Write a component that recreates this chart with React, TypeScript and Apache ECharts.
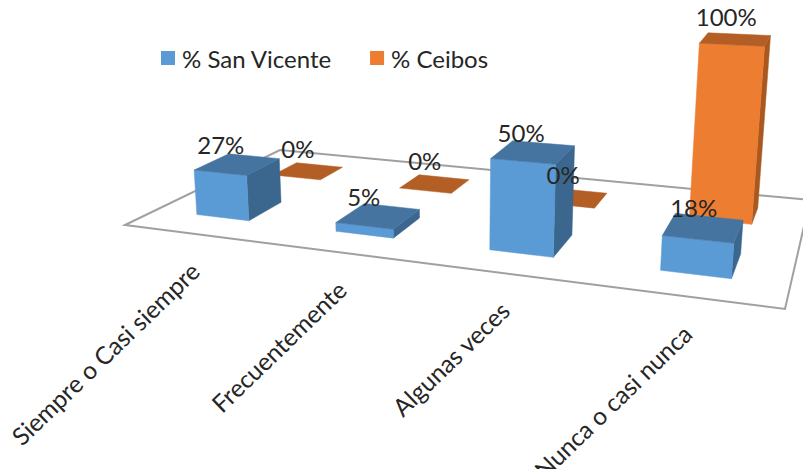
import React, { useEffect, useRef } from "react";
import * as echarts from "echarts";

const categories = ["Siempre o Casi siempre", "Frecuentemente", "Algunas veces", "Nunca o casi nunca"];
const sanVicente = [27, 5, 50, 18];
const ceibos = [0, 0, 0, 100];
const seriesNames = ["% San Vicente", "% Ceibos"];

const FONT = "Lato, Carlito, 'Open Sans', sans-serif";
const TEXT = "#262626";
const BLUE = { front: "#5B9BD5", top: "#44749F", side: "#3B668D" };
const ORANGE = { front: "#ED7D31", top: "#B25E25", side: "#A9591F" };

// Floor quadrilateral of the 3-D box: front-left, front-right, back-right, back-left.
const FLOOR = [[125, 225], [785, 309], [810, 200], [280, 150]];

function makeFloorProjection() {
  const [[x0, y0], [x1, y1], [x2, y2], [x3, y3]] = FLOOR;
  const dx1 = x1 - x2, dx2 = x3 - x2, sx = x0 - x1 + x2 - x3;
  const dy1 = y1 - y2, dy2 = y3 - y2, sy = y0 - y1 + y2 - y3;
  const det = dx1 * dy2 - dx2 * dy1;
  const g = (sx * dy2 - dx2 * sy) / det;
  const h = (dx1 * sy - sx * dy1) / det;
  const a = x1 - x0 + g * x1, b = x3 - x0 + h * x3;
  const d = y1 - y0 + g * y1, e = y3 - y0 + h * y3;
  return (u: number, v: number): number[] => {
    const w = g * u + h * v + 1;
    return [(a * u + b * v + x0) / w, (d * u + e * v + y0) / w];
  };
}
const floorAt = makeFloorProjection();

// Lifts a floor point by a height given in axis pixels; closer points scale up
// and verticals splay outwards from the centre of the view.
function lift(p: number[], height: number): number[] {
  const scale = 1.67 + 0.0035 * (p[1] - 220) + 0.00018 * (p[0] - 220);
  const h = height * scale;
  return [p[0] + h * (p[0] - 450) * 0.00024, p[1] - h];
}

const BAR_WIDTH = 0.385;
const DEPTHS = { blue: [0.17, 0.38], orange: [0.67, 0.85] };

function footprint(api: any, index: number, depth: number[]) {
  const width = api.getWidth();
  const uc = api.coord([index, 0])[0] / width;
  const half = (api.size([1, 0])[0] / width) * BAR_WIDTH * 0.5;
  return {
    fl: floorAt(uc - half, depth[0]),
    fr: floorAt(uc + half, depth[0]),
    br: floorAt(uc + half, depth[1]),
    bl: floorAt(uc - half, depth[1]),
  };
}

const renderBox = (depth: number[], colors: typeof BLUE) => (params: any, api: any) => {
  const index = api.value(0);
  const height = api.coord([index, 0])[1] - api.coord([index, api.value(1)])[1];
  const { fl, fr, br, bl } = footprint(api, index, depth);
  const faces: { points: number[][]; fill: string }[] = [];
  const [tfl, tfr, tbr, tbl] = [fl, fr, br, bl].map((p) => lift(p, height));
  if (height > 0) {
    faces.push({ points: [fr, br, tbr, tfr], fill: colors.side });
    faces.push({ points: [fl, fr, tfr, tfl], fill: colors.front });
  }
  faces.push({ points: [tfl, tfr, tbr, tbl], fill: colors.top });
  return {
    type: "group",
    children: faces.map((f) => ({
      type: "polygon",
      shape: { points: f.points },
      style: { fill: f.fill, stroke: f.fill, lineWidth: 0.5 },
    })),
  };
};

const renderValueLabel = (depth: number[], dx: number, dy: number, drift: number) => (params: any, api: any) => {
  const index = api.value(0);
  const value = api.value(1);
  const height = api.coord([index, 0])[1] - api.coord([index, value])[1];
  const { fl, br } = footprint(api, index, depth);
  const a = lift(fl, height);
  const b = lift(br, height);
  const cx = (a[0] + b[0]) / 2;
  const cy = (a[1] + b[1]) / 2;
  return {
    type: "text",
    x: cx + dx + (cx - 300) * drift,
    y: cy + dy,
    style: {
      text: `${value}%`,
      font: `24px ${FONT}`,
      fill: TEXT,
      align: "center",
      verticalAlign: "middle",
    },
  };
};

const renderFloor = () => ({
  type: "polygon",
  shape: { points: FLOOR },
  style: { fill: "none", stroke: "#A0A0A0", lineWidth: 2 },
});

const renderCategoryLabel = (params: any, api: any) => {
  const index = api.value(0);
  const u = api.coord([index, 0])[0] / api.getWidth();
  const p = floorAt(u, 0);
  return {
    type: "text",
    x: p[0] + 2,
    y: p[1] + 33,
    rotation: (44 * Math.PI) / 180,
    style: {
      text: categories[index],
      font: `24.5px ${FONT}`,
      fill: TEXT,
      align: "right",
      verticalAlign: "middle",
    },
  };
};

const toRows = (values: number[]) => values.map((v, i) => [i, v]);

export default function App() {
  const ref = useRef<HTMLDivElement>(null);

  useEffect(() => {
    document.body.style.margin = "0";
    const chart = echarts.init(ref.current, undefined, { renderer: "svg" });
    const rows = categories.map((_, i) => [i, 0]);
    chart.setOption({
      animation: false,
      backgroundColor: "#fff",
      grid: { left: 0, right: 0, top: 100, height: 100, show: false },
      xAxis: { type: "category", data: categories, show: false },
      yAxis: { type: "value", min: 0, max: 100, show: false },
      legend: {
        left: 161,
        top: 46,
        padding: 0,
        icon: "rect",
        itemWidth: 14,
        itemHeight: 14,
        itemGap: 38,
        selectedMode: false,
        data: seriesNames,
        textStyle: { fontFamily: FONT, fontSize: 24, color: TEXT, padding: [0, 0, 0, 2] },
      },
      series: [
        { type: "custom", name: "floor", silent: true, z: 1, data: [[0, 0]], renderItem: renderFloor, clip: false },
        {
          type: "custom",
          name: seriesNames[1],
          z: 2,
          itemStyle: { color: ORANGE.front },
          data: toRows(ceibos),
          renderItem: renderBox(DEPTHS.orange, ORANGE),
          clip: false,
        },
        {
          type: "custom",
          name: seriesNames[0],
          z: 3,
          itemStyle: { color: BLUE.front },
          data: toRows(sanVicente),
          renderItem: renderBox(DEPTHS.blue, BLUE),
          clip: false,
        },
        { type: "custom", name: "orangeLabels", z: 4, silent: true, data: toRows(ceibos), renderItem: renderValueLabel(DEPTHS.orange, -10, -23, 0.003), clip: false },
        { type: "custom", name: "blueLabels", z: 4, silent: true, data: toRows(sanVicente), renderItem: renderValueLabel(DEPTHS.blue, -15, -20, 0.015), clip: false },
        { type: "custom", name: "categoryLabels", z: 4, silent: true, data: rows, renderItem: renderCategoryLabel, clip: false },
      ],
    });
    return () => chart.dispose();
  }, []);

  return <div ref={ref} style={{ width: 803, height: 469 }} />;
}
